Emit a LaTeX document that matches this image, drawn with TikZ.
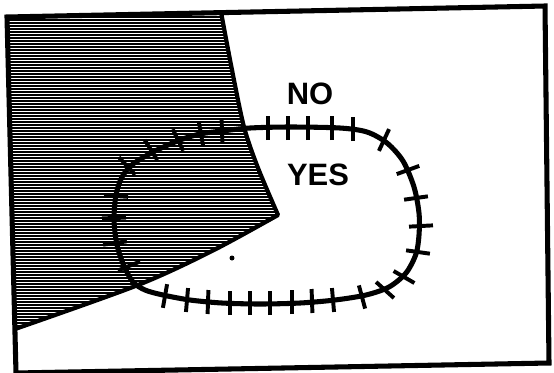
\documentclass[tikz,border=0pt]{standalone}
\usepackage{fontspec}
\setmainfont{Liberation Sans}

\begin{document}
\begin{tikzpicture}[
    x=0.25mm, y=-0.25mm,
    frame/.style={line width=3.6pt, line join=miter},
    edge/.style={line width=3pt, line join=round},
    hatch/.style={line width=1.05pt},
    loopline/.style={line width=3.6pt},
    tickmark/.style={line width=2.8pt},
    answer/.style={font=\fontsize{22}{24}\selectfont\bfseries, inner sep=0pt}
]

\def\tl{12}

\useasboundingbox (0,0) rectangle (554,372);

% Shaded region
\begin{scope}
  \clip (7,17) -- (221,12)
    -- plot[smooth, tension=0.5] coordinates {(221,12) (232,70) (244,127) (258,168) (278,215)}
    -- plot[smooth, tension=0.5] coordinates {(278,215) (212,251) (138,285) (15,329)} -- cycle;
  \foreach \y in {14,17,...,332}
    \draw[hatch] (0,\y) -- (300,\y);
\end{scope}
\draw[edge] plot[smooth, tension=0.5] coordinates {(221,12) (232,70) (244,127) (258,168) (278,215)}
  -- plot[smooth, tension=0.5] coordinates {(278,215) (212,251) (138,285) (15,329)};

% Frame
\draw[frame] (7,17) -- (545,6) -- (549,363) -- (16,373) -- cycle;

% Closed loop
\draw[loopline] plot[smooth cycle, tension=0.5] coordinates {
  (222,131) (250,128) (290,127) (340,128) (367,132) (387,143) (403,161)
  (414,187) (419,213) (419,235) (416,254) (406,273) (389,287) (366,295)
  (335,300) (300,303) (260,304) (222,303) (190,300) (163,295) (145,290)
  (133,282) (124,266) (117,245) (114,220) (116,195) (122,177) (133,164)
  (155,151) (180,140) (200,134)};

% Ticks across the loop
\foreach \x/\y/\a in {268/128/90, 288/128/90, 308/128/90, 332/128/90, 353/129/90,
    384/140/115, 408/170/-20, 416/198/-8, 421/226/-3, 418/252/8, 404/277/30,
    385/290/42, 362/297/75,
    333/300/85, 312/301/88, 292/302/90, 270/303/90, 250/303/90, 230/303/90,
    208/302/92, 187/300/95, 165/296/100,
    129/266/158, 115/243/172, 114/218/178, 116/196/184, 127/166/47,
    151/150/58, 178/140/64, 201/134/80, 222/131/88}
  \draw[tickmark] (\x,\y) ++(\a:\tl) -- ++(\a+180:2*\tl);

% Dot
\fill (232,258) circle (2.5);

% Labels
\node[answer] (no) at (310,94) {NO};
\node[answer] (yes) at (318,175) {YES};

\end{tikzpicture}
\end{document}
